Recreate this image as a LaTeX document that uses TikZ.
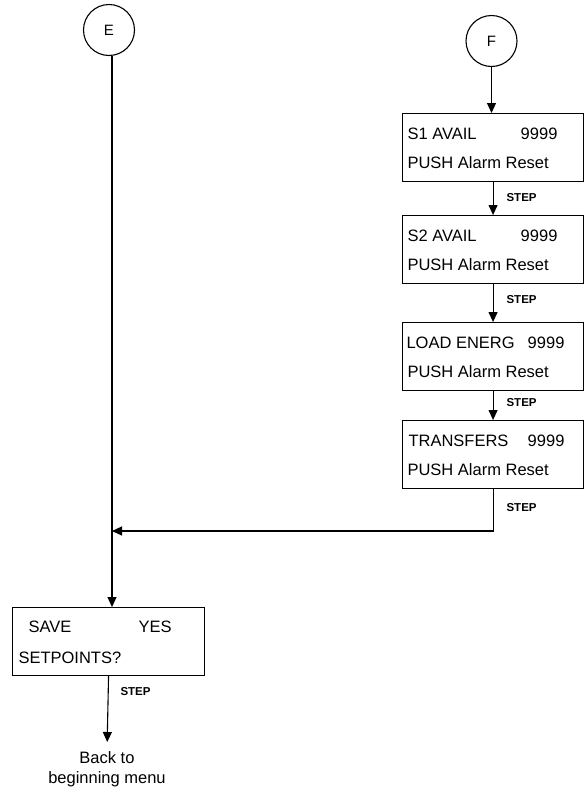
\documentclass[tikz,border=0pt]{standalone}
\usepackage{fontspec}
\setmainfont{Liberation Sans}
\usetikzlibrary{arrows.meta}
\begin{document}
\begin{tikzpicture}[x=1pt,y=-1pt,line width=1.1pt,
  conn/.style={circle,draw,minimum size=51pt,inner sep=0pt,font=\fontsize{15}{18}\selectfont},
  screen/.style={draw,minimum width=181pt,minimum height=68pt,inner sep=0pt,anchor=north west},
  txt/.style={font=\fontsize{16.5}{20}\selectfont,inner sep=0pt,anchor=base west},
  num/.style={font=\fontsize{16.5}{20}\selectfont,inner sep=0pt,anchor=base east},
  steplbl/.style={font=\bfseries\fontsize{11.5}{14}\selectfont,inner sep=0pt,anchor=west},
  arr/.style={-{Triangle[length=10pt,width=9pt]}},
]
\useasboundingbox (0,0) rectangle (585,793);

% connectors
\node[conn] (E) at (109,30) {E};
\node[conn] (F) at (491.5,41) {F};

% right column screens
\node[screen] (s1) at (402,113) {};
\node[screen] (s2) at (402,215) {};
\node[screen] (s3) at (402,322) {};
\node[screen] (s4) at (402,420) {};

\node[txt] (s1a) at (407,139) {S1 AVAIL};
\node[num] (s1n) at (558,139) {9999};
\node[txt] (s1b) at (407,168) {PUSH Alarm Reset};

\node[txt] (s2a) at (407,241) {S2 AVAIL};
\node[num] (s2n) at (558,241) {9999};
\node[txt] (s2b) at (407,270) {PUSH Alarm Reset};

\node[txt] (s3a) at (406,348) {LOAD ENERG};
\node[num] (s3n) at (565,348) {9999};
\node[txt] (s3b) at (407,377) {PUSH Alarm Reset};

\node[txt] (s4a) at (408,446) {TRANSFERS};
\node[num] (s4n) at (565,446) {9999};
\node[txt] (s4b) at (407,475) {PUSH Alarm Reset};

% save box
\node[screen,minimum width=192pt] (save) at (12,607) {};
\node[txt] (sva) at (28,632) {SAVE};
\node[txt] (svy) at (138,632) {YES};
\node[txt] (svb) at (18,663) {SETPOINTS?};

\node[align=center,anchor=north,inner sep=0pt,font=\fontsize{16.5}{20}\selectfont] (back) at (107,751) {Back to\\beginning menu};

% step labels
\node[steplbl] (st1) at (506,198) {STEP};
\node[steplbl] (st2) at (506,300) {STEP};
\node[steplbl] (st3) at (506,403) {STEP};
\node[steplbl] (st4) at (506,508) {STEP};
\node[steplbl] (st5) at (120,692) {STEP};

% flow lines
\coordinate (j) at (112,531);
\draw[arr] (F) -- (F |- s1.north);
\draw[arr] (s1) -- (s2);
\draw[arr] (s2) -- (s3);
\draw[arr] (s3) -- (s4);
\draw[arr] (s4.south) |- (j);
\draw[arr] (E.south -| j) -- (j |- save.north);
\draw[arr,shorten >=9pt] (save.south) -- (back.north);
\end{tikzpicture}
\end{document}
